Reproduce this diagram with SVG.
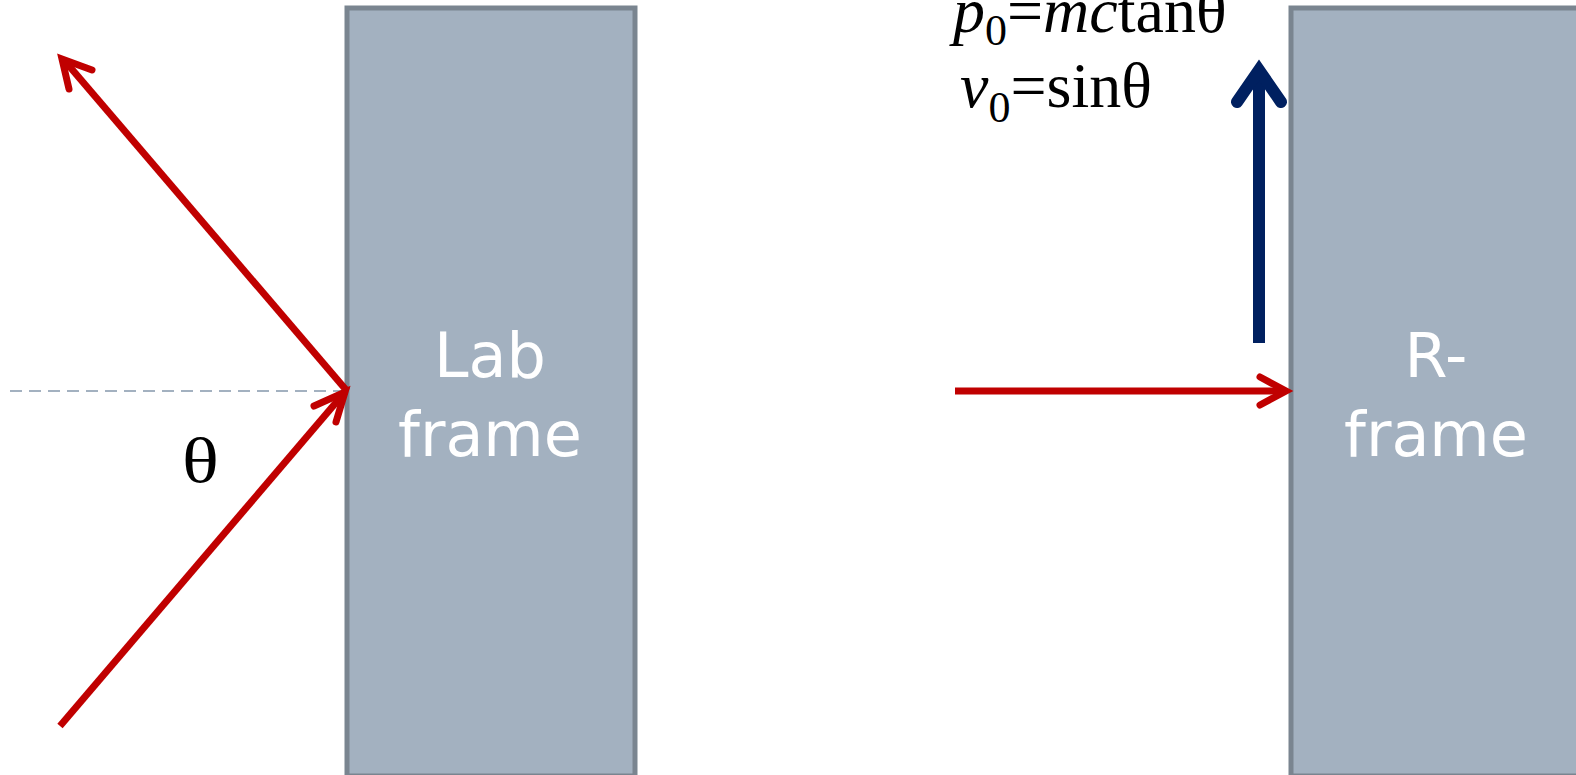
<svg xmlns="http://www.w3.org/2000/svg" width="1576" height="775" viewBox="0 0 1576 775">
<style>
.frame{fill:#a3b1c0;stroke:#7a8590;stroke-width:5}
.lbl{font-family:"DejaVu Sans",Verdana,sans-serif;font-size:62px;fill:#ffffff;text-anchor:middle}
.red{fill:none;stroke:#c00000;stroke-width:7}
.redhead{fill:none;stroke:#c00000;stroke-width:7;stroke-linecap:round;stroke-linejoin:miter;stroke-miterlimit:10}
.blue{fill:none;stroke:#002060;stroke-width:12}
.bluehead{fill:none;stroke:#002060;stroke-width:12;stroke-linecap:round;stroke-linejoin:miter;stroke-miterlimit:10}
.math{font-family:"Liberation Serif","Times New Roman",serif;font-size:64px;fill:#000000}
</style>
<rect width="1576" height="775" fill="#ffffff"/>
<g id="lab-frame">
<rect class="frame" x="347" y="8" width="288" height="768"/>
<text class="lbl" x="490" y="377">Lab</text>
<text class="lbl" x="490" y="456">frame</text>
</g>
<g id="r-frame">
<rect class="frame" x="1291" y="8" width="300" height="768"/>
<text class="lbl" x="1436" y="377">R-</text>
<text class="lbl" x="1436" y="456">frame</text>
</g>
<g id="connectors">
<line x1="10" y1="391" x2="345" y2="391" stroke="#a3b1c0" stroke-width="2" stroke-dasharray="12 7"/>
<line class="red" x1="60" y1="726" x2="345" y2="392"/>
<polyline class="redhead" points="314,406 345,392 336,422"/>
<line class="red" x1="347" y1="391" x2="64" y2="60"/>
<polyline class="redhead" points="69,89 62,59 92,70"/>
<line class="red" x1="955" y1="391" x2="1286" y2="391"/>
<polyline class="redhead" points="1260,377 1286,391 1260,405"/>
<line class="blue" x1="1259" y1="343" x2="1259" y2="72"/>
<polyline class="bluehead" points="1237,102 1259,70 1281,102"/>
</g>
<g id="labels">
<text class="math" transform="translate(182,482) scale(1.2,1)" x="0" y="0">θ</text>
<text class="math" x="953" y="32"><tspan font-style="italic">p</tspan><tspan font-size="44" dy="13">0</tspan><tspan dy="-13">=</tspan><tspan font-style="italic">mc</tspan>tanθ</text>
<text class="math" x="960" y="107"><tspan font-style="italic">v</tspan><tspan font-size="44" dy="15">0</tspan><tspan dy="-15">=sinθ</tspan></text>
</g>
</svg>
